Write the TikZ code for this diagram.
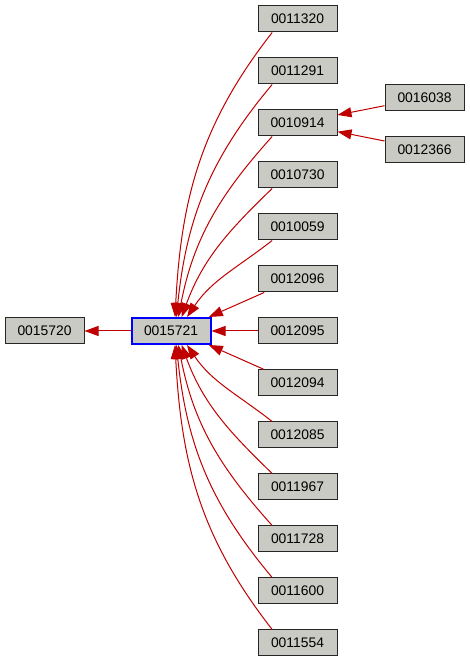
\documentclass[tikz,border=0pt]{standalone}
\usepackage{fontspec}
\setmainfont{Liberation Sans}
\usetikzlibrary{arrows.meta}
\definecolor{depnode}{RGB}{200,202,195}
\definecolor{depedge}{RGB}{192,0,0}
\definecolor{depfocus}{RGB}{0,0,255}
\tikzset{
  dbox/.style={draw=black!85,fill=depnode,line width=0.75pt,inner sep=0pt,
               minimum width=59.25pt,minimum height=19.5pt,font=\fontsize{10.4}{12}\selectfont},
  focus/.style={dbox,draw=depfocus,line width=1.5pt},
  uses/.style={-{Triangle[length=10.5pt,width=7.5pt]},draw=depedge,line width=0.75pt},
}
\begin{document}
\begin{tikzpicture}[x=0.75pt,y=0.75pt]
\useasboundingbox (0,0) rectangle (469,663);
% --- focus and its user ---
\node[dbox] (n0015720) at (44.5,332) {0015720};
\node[focus] (n0015721) at (171,332) {0015721};
% --- included files ---
\foreach \id [count=\k from 0] in {0011320,0011291,0010914,0010730,0010059,0012096,0012095,
    0012094,0012085,0011967,0011728,0011600,0011554}
  \node[dbox] (n\id) at (297.5,644-52*\k) {\id};
\node[dbox] (n0016038) at (424.5,565) {0016038};
\node[dbox] (n0012366) at (424.5,513) {0012366};
% fan into the focus, upper half
\foreach \id/\dx/\out/\in in {0011320/3/-128/87,0011291/4/-130/84,0010914/5.5/-132/79,
    0010730/8/-136/70,0010059/12/-142/56}
  \draw[uses] ([xshift=-19pt]n\id.south) to[out=\out,in=\in] ([xshift=\dx pt]n0015721.north);
\draw[uses] ([xshift=5pt]n0012096.south west) -- ([xshift=-2pt]n0015721.north east);
\draw[uses] (n0012095) -- (n0015721);
% fan into the focus, lower half
\draw[uses] ([xshift=5pt]n0012094.north west) -- ([xshift=-2pt]n0015721.south east);
\foreach \id/\dx/\out/\in in {0012085/12/142/-56,0011967/8/136/-70,0011728/5.5/132/-79,
    0011600/4/130/-84,0011554/3/128/-87}
  \draw[uses] ([xshift=-19pt]n\id.north) to[out=\out,in=\in] ([xshift=\dx pt]n0015721.south);
% focus to user, second level
\draw[uses] (n0015721) -- (n0015720);
\draw[uses] ([yshift=-5.8pt]n0016038.west) -- ([yshift=6pt]n0010914.east);
\draw[uses] ([yshift=6.75pt]n0012366.west) -- ([yshift=-6.5pt]n0010914.east);
\end{tikzpicture}
\end{document}
